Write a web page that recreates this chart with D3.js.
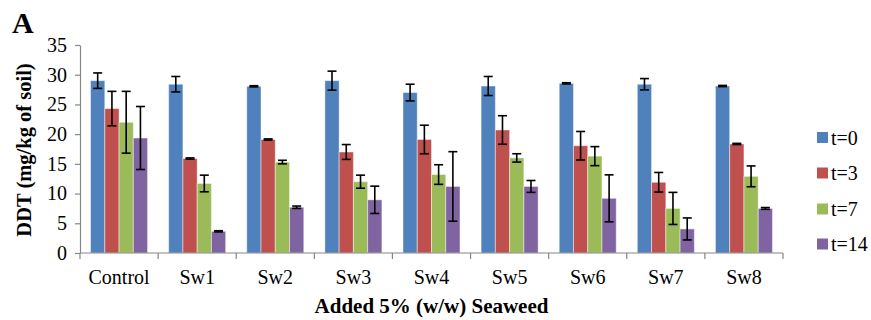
<!DOCTYPE html>
<html>
<head>
<meta charset="utf-8">
<script src="https://cdn.jsdelivr.net/npm/d3@7"></script>
<style>
  html, body { margin: 0; padding: 0; background: #fff; }
  svg { display: block; font-family: "Liberation Serif", "Times New Roman", serif; }
</style>
</head>
<body>
<svg id="chart" width="871" height="320"></svg>
<script>
const categories = ["Control", "Sw1", "Sw2", "Sw3", "Sw4", "Sw5", "Sw6", "Sw7", "Sw8"];
const seriesNames = ["t=0", "t=3", "t=7", "t=14"];
const t0  = [29.0, 28.4, 28.05, 29.0, 27.0, 28.1, 28.55, 28.4, 28.1];
const e0  = [1.3, 1.3, 0.1, 1.6, 1.4, 1.6, 0.1, 0.95, 0.1];
const t3  = [24.3, 15.9, 19.1, 17.0, 19.1, 20.7, 18.05, 11.9, 18.35];
const e3  = [2.9, 0.1, 0.1, 1.25, 2.4, 2.4, 2.4, 1.65, 0.1];
const t7  = [22.0, 11.7, 15.3, 12.0, 13.2, 16.0, 16.3, 7.5, 12.9];
const e7  = [5.2, 1.4, 0.3, 1.1, 1.65, 0.7, 1.6, 2.7, 1.75];
const t14 = [19.35, 3.65, 7.7, 8.95, 11.2, 11.2, 9.2, 4.05, 7.5];
const e14 = [5.3, 0.1, 0.2, 2.3, 5.85, 1.0, 3.95, 1.85, 0.15];
const yTicks = [0, 5, 10, 15, 20, 25, 30, 35];
const colors = ["#4F81BD", "#C0504D", "#9BBB59", "#8064A2"];

const values = [t0, t3, t7, t14];
const errors = [e0, e3, e7, e14];

const svg = d3.select("#chart");
const mLeft = 80, mRight = 783, mTop = 45, mBottom = 253;
const axisColor = "#868686";

const x0 = d3.scaleBand().domain(categories).range([mLeft, mRight]).padding(0);
const x1 = d3.scaleBand().domain(seriesNames).range([0, x0.bandwidth()]).paddingInner(0).paddingOuter(0.74);
const y = d3.scaleLinear().domain([0, 35]).range([mBottom, mTop]);

// bars
const rows = [];
categories.forEach((c, i) => {
  seriesNames.forEach((s, j) => {
    rows.push({ cat: c, ser: s, j: j, v: values[j][i], e: errors[j][i] });
  });
});

svg.append("g").selectAll("rect").data(rows).join("rect")
  .attr("x", d => x0(d.cat) + x1(d.ser))
  .attr("y", d => y(d.v))
  .attr("width", x1.bandwidth())
  .attr("height", d => y(0) - y(d.v))
  .attr("fill", d => colors[d.j])
  .attr("stroke", "rgba(255,255,255,0.45)")
  .attr("stroke-width", 1);

// axes
const yAxis = d3.axisLeft(y).tickValues(yTicks).tickSize(5).tickPadding(8).tickSizeOuter(0);
const gy = svg.append("g").attr("transform", `translate(${mLeft},0)`).call(yAxis);
gy.select(".domain").attr("stroke", axisColor).attr("stroke-width", 1.2);
gy.selectAll(".tick line").attr("stroke", axisColor).attr("stroke-width", 1.2);
gy.selectAll(".tick text").attr("font-size", 20).attr("fill", "#000")
  .attr("font-family", "'Liberation Serif', serif");

const gx = svg.append("g").attr("transform", `translate(0,${mBottom})`);
gx.append("line").attr("x1", mLeft).attr("x2", mRight).attr("y1", 0).attr("y2", 0)
  .attr("stroke", axisColor).attr("stroke-width", 1.2);
const boundaries = categories.map(c => x0(c)).concat([x0(categories[categories.length - 1]) + x0.bandwidth()]);
gx.selectAll("line.b").data(boundaries).join("line").attr("class", "b")
  .attr("x1", d => d).attr("x2", d => d).attr("y1", 0).attr("y2", 6)
  .attr("stroke", axisColor).attr("stroke-width", 1.2);
gx.selectAll("text").data(categories).join("text")
  .attr("x", d => x0(d) + x0.bandwidth() / 2)
  .attr("y", 31)
  .attr("text-anchor", "middle")
  .attr("font-size", 20)
  .text(d => d);

// error bars
const eg = svg.append("g").attr("stroke", "#000").attr("stroke-width", 1.6);
rows.forEach(d => {
  const cx = x0(d.cat) + x1(d.ser) + x1.bandwidth() / 2;
  const yt = y(d.v + d.e), yb = y(d.v - d.e);
  eg.append("line").attr("x1", cx).attr("x2", cx).attr("y1", yt).attr("y2", yb);
  eg.append("line").attr("x1", cx - 4.5).attr("x2", cx + 4.5).attr("y1", yt).attr("y2", yt);
  eg.append("line").attr("x1", cx - 4.5).attr("x2", cx + 4.5).attr("y1", yb).attr("y2", yb);
});

// legend
const legendY = [137.5, 173, 209, 244];
const lg = svg.append("g");
seriesNames.forEach((s, j) => {
  lg.append("rect").attr("x", 817).attr("y", legendY[j] - 5.5).attr("width", 11).attr("height", 11).attr("fill", colors[j]);
  lg.append("text").attr("x", 831).attr("y", legendY[j] + 7).attr("font-size", 20).text(s);
});

// titles
svg.append("text").attr("x", 12).attr("y", 33).attr("font-size", 30).attr("font-weight", "bold").text("A");
svg.append("text")
  .attr("transform", `translate(31,150) rotate(-90)`)
  .attr("text-anchor", "middle").attr("font-size", 20.5).attr("font-weight", "bold")
  .text("DDT (mg/kg of soil)");
svg.append("text")
  .attr("x", (mLeft + mRight) / 2).attr("y", 313)
  .attr("text-anchor", "middle").attr("font-size", 21).attr("font-weight", "bold")
  .text("Added 5% (w/w) Seaweed");
</script>
</body>
</html>
